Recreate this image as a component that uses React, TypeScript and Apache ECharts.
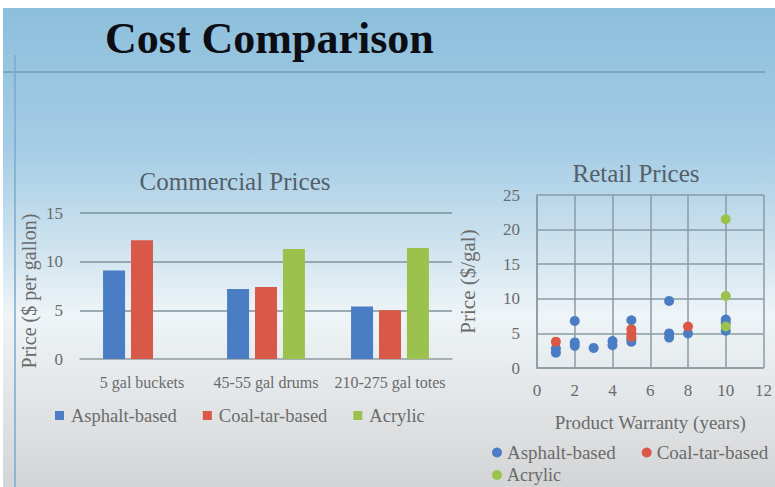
import React, { useEffect, useRef } from "react";
import * as echarts from "echarts";

const barCategories = ["5 gal buckets", "45-55 gal drums", "210-275 gal totes"];
const asphaltBar = [9.1, 7.2, 5.4];
const coalTarBar = [12.2, 7.4, 5.0];
const acrylicBar: (number | null)[] = [null, 11.3, 11.4];

const barTicks = { min: 0, max: 15, interval: 5 };
const scatterXTicks = { min: 0, max: 12, interval: 2 };
const scatterYTicks = { min: 0, max: 25, interval: 5 };

const asphaltRetail: [number, number][] = [
  [1, 2.2], [1, 2.8], [2, 6.8], [2, 3.7], [2, 3.2], [3, 2.9], [4, 3.9], [4, 3.3],
  [5, 6.9], [5, 4.2], [5, 3.8], [7, 9.7], [7, 5.0], [7, 4.4], [8, 5.0],
  [10, 7.0], [10, 6.5], [10, 5.4],
];
const coalTarRetail: [number, number][] = [[1, 3.8], [5, 5.6], [5, 5.0], [5, 4.5], [8, 6.0]];
const acrylicRetail: [number, number][] = [[10, 21.5], [10, 10.4], [10, 6.0]];

const seriesNames = ["Asphalt-based", "Coal-tar-based", "Acrylic"];
const colors = ["#4a7dc4", "#d95847", "#9cc24e"];

const FONT = "'Liberation Serif', 'DejaVu Serif', serif";

export default function App() {
  const ref = useRef<HTMLDivElement>(null);
  useEffect(() => {
    if (!ref.current) return;
    const chart = echarts.init(ref.current, null, { renderer: "svg" });
    const labelStyle = { color: "#6b6b6b", fontFamily: FONT, fontSize: 17 };
    const gridLineColor = "#8a9ba4";
    const option: any = {
      animation: false,
      backgroundColor: "transparent",
      color: colors,
      textStyle: { fontFamily: FONT },
      graphic: [
        { type: "line", shape: { x1: 3, y1: 72, x2: 765, y2: 72 }, style: { stroke: "#6f9cc1", lineWidth: 1.5 } },
        { type: "line", shape: { x1: 15, y1: 55, x2: 15, y2: 487 }, style: { stroke: "#7ea8c9", lineWidth: 1.5 } },
        {
          type: "text", x: 105, y: 38,
          style: { text: "Cost Comparison", font: `bold 44px ${FONT}`, fill: "#0d0d14", textVerticalAlign: "middle" },
        },
        {
          type: "text", x: 235, y: 181,
          style: { text: "Commercial Prices", font: `25px ${FONT}`, fill: "#536068", textAlign: "center", textVerticalAlign: "middle" },
        },
        {
          type: "text", x: 636, y: 173,
          style: { text: "Retail Prices", font: `25px ${FONT}`, fill: "#536068", textAlign: "center", textVerticalAlign: "middle" },
        },
        {
          type: "text", x: 29, y: 291, rotation: Math.PI / 2,
          style: { text: "Price ($ per gallon)", font: `20px ${FONT}`, fill: "#6b6b6b", textAlign: "center", textVerticalAlign: "middle" },
        },
      ],
      grid: [
        { left: 80, right: 323, top: 213, bottom: 128 },
        { left: 537, right: 4, top: 195, bottom: 119 },
      ],
      xAxis: [
        {
          type: "category", gridIndex: 0, data: barCategories,
          axisLine: { show: true, lineStyle: { color: "#a9b1b5", width: 1.5 } },
          axisTick: { show: false },
          axisLabel: { ...labelStyle, fontSize: 16, margin: 15, interval: 0 },
        },
        {
          type: "value", gridIndex: 1, ...scatterXTicks,
          axisLine: { show: true, lineStyle: { color: gridLineColor, width: 1.5 } },
          axisTick: { show: false },
          splitLine: { show: true, lineStyle: { color: gridLineColor, width: 1.5 } },
          axisLabel: { ...labelStyle, margin: 14 },
          name: "Product Warranty (years)", nameLocation: "middle", nameGap: 45,
          nameTextStyle: { color: "#6b6b6b", fontFamily: FONT, fontSize: 19 },
        },
      ],
      yAxis: [
        {
          type: "value", gridIndex: 0, ...barTicks,
          axisLine: { show: false }, axisTick: { show: false },
          splitLine: { show: true, lineStyle: { color: "#7e939d", width: 1.5 } },
          axisLabel: { ...labelStyle, margin: 17 },
        },
        {
          type: "value", gridIndex: 1, ...scatterYTicks,
          axisLine: { show: true, lineStyle: { color: gridLineColor, width: 1.5 } },
          axisTick: { show: false },
          splitLine: { show: true, lineStyle: { color: gridLineColor, width: 1.5 } },
          axisLabel: { ...labelStyle, margin: 17 },
          name: "Price ($/gal)", nameLocation: "middle", nameGap: 59,
          nameTextStyle: { color: "#6b6b6b", fontFamily: FONT, fontSize: 21 },
        },
      ],
      legend: [
        {
          left: 50, top: 401, itemWidth: 9, itemHeight: 9, itemGap: 26, icon: "rect",
          data: seriesNames,
          textStyle: { color: "#6b6b6b", fontFamily: FONT, fontSize: 18.5, padding: [0, 0, 0, 2] },
        },
        {
          left: 487, top: 438, itemWidth: 10, itemHeight: 10, itemGap: 26, icon: "circle",
          data: seriesNames.slice(0, 2),
          textStyle: { color: "#6b6b6b", fontFamily: FONT, fontSize: 19 },
        },
        {
          left: 487, top: 461, itemWidth: 10, itemHeight: 10, icon: "circle",
          data: seriesNames.slice(2),
          textStyle: { color: "#6b6b6b", fontFamily: FONT, fontSize: 18 },
        },
      ],
      series: [
        { name: seriesNames[0], type: "bar", xAxisIndex: 0, yAxisIndex: 0, data: asphaltBar, barWidth: 22, barGap: "27%", itemStyle: { color: colors[0] } },
        { name: seriesNames[1], type: "bar", xAxisIndex: 0, yAxisIndex: 0, data: coalTarBar, barWidth: 22, barGap: "27%", itemStyle: { color: colors[1] } },
        { name: seriesNames[2], type: "bar", xAxisIndex: 0, yAxisIndex: 0, data: acrylicBar, barWidth: 22, barGap: "27%", itemStyle: { color: colors[2] } },
        { name: seriesNames[0], type: "scatter", xAxisIndex: 1, yAxisIndex: 1, data: asphaltRetail, symbolSize: 10, itemStyle: { color: colors[0], opacity: 1 } },
        { name: seriesNames[1], type: "scatter", xAxisIndex: 1, yAxisIndex: 1, data: coalTarRetail, symbolSize: 10, itemStyle: { color: colors[1], opacity: 1 } },
        { name: seriesNames[2], type: "scatter", xAxisIndex: 1, yAxisIndex: 1, data: acrylicRetail, symbolSize: 10, itemStyle: { color: colors[2], opacity: 1 } },
      ],
    };
    chart.setOption(option);
    return () => chart.dispose();
  }, []);

  return (
    <div style={{ position: "fixed", left: 0, top: 0, width: 775, height: 487, background: "#ffffff", overflow: "hidden" }}>
      <div
        style={{
          position: "absolute", left: 3, top: 8, width: 772, height: 479,
          background: "linear-gradient(180deg, #8cbfdc 0%, #a6cde5 30%, #cfe3ef 50%, #eef4f7 64%, #e4e7e9 80%, #d3d4d5 100%)",
        }}
      />
      <div ref={ref} style={{ position: "absolute", left: 0, top: 0, width: 775, height: 487 }} />
    </div>
  );
}
